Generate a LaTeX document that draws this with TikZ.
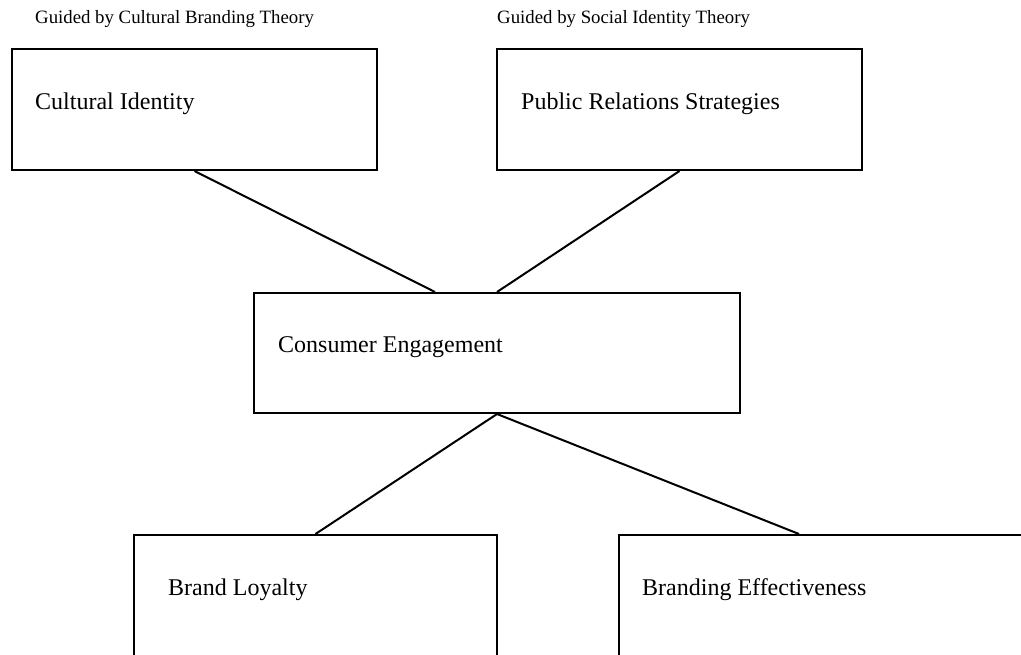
\documentclass[tikz,border=0pt]{standalone}
\usepackage{fontspec}
\setmainfont{Liberation Serif}
\usetikzlibrary{calc}
\begin{document}
\begin{tikzpicture}[x=1pt,y=-1pt,
  box/.style={draw=black, line width=2pt, fill=white, minimum width=365pt,
    minimum height=121pt, inner sep=0pt, anchor=north west},
  label/.style={anchor=base west, inner sep=0pt, font=\fontsize{24}{27}\selectfont},
  note/.style={anchor=base west, inner sep=0pt, font=\fontsize{18.8}{21}\selectfont},
  link/.style={draw=black, line width=2pt}]
  \clip (0,0) rectangle (1021,654);
  \fill[white] (0,0) rectangle (1021,654);

  % theory notes
  \node[note] (n1) at (35,23) {Guided by Cultural Branding Theory};
  \node[note] (n2) at (497,23) {Guided by Social Identity Theory};

  % boxes
  \node[box] (ci) at (11,48) {};
  \node[box] (pr) at (496,48) {};
  \node[box, minimum width=486pt, minimum height=120pt] (ce) at (253,292) {};
  \node[box, minimum width=363pt] (bl) at (133,534) {};
  \node[box, minimum width=420pt] (be) at (618,534) {};

  % box texts
  \node[label] (tci) at (35,109) {Cultural Identity};
  \node[label] (tpr) at (521,109) {Public Relations Strategies};
  \node[label] (tce) at (278,352) {Consumer Engagement};
  \node[label] (tbl) at (168,595) {Brand Loyalty};
  \node[label] (tbe) at (642,595) {Branding Effectiveness};

  % connectors
  \coordinate (ceIn) at ($(ce.north west)+(182,0)$);
  \coordinate (beIn) at ($(be.north west)+(181,0)$);
  \draw[link] (ci.south) -- (ceIn);
  \draw[link] (pr.south) -- (ce.north);
  \draw[link] (ce.south) -- (bl.north);
  \draw[link] (ce.south) -- (beIn);
\end{tikzpicture}
\end{document}
